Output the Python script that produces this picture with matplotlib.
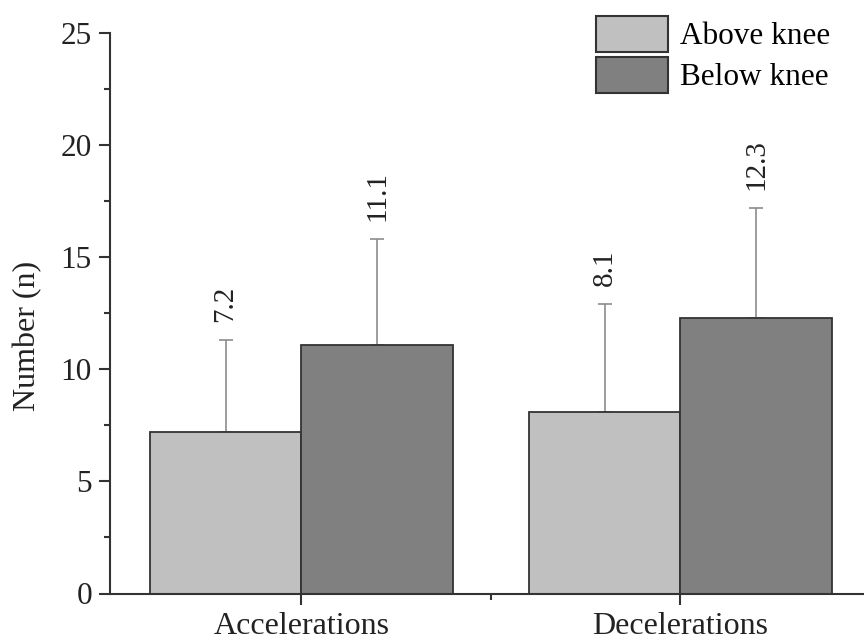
import matplotlib
matplotlib.use("Agg")
import matplotlib.pyplot as plt
from matplotlib.ticker import MultipleLocator, FixedLocator
import numpy as np

categories = ["Accelerations", "Decelerations"]
series_names = ["Above knee", "Below knee"]
above_mean = [7.2, 8.1]
above_sd = [4.1, 4.8]
below_mean = [11.1, 12.3]
below_sd = [4.7, 4.9]
yticks = [0, 5, 10, 15, 20, 25]

plt.rcParams['font.family'] = ['Liberation Serif', 'DejaVu Serif']

fig = plt.figure(figsize=(8.64, 6.42), dpi=100)
ax_left, ax_right = 110, 870
ax_bottom, ax_top = 593.5, 32.7
ax = fig.add_axes([ax_left/864, 1-ax_bottom/642, (ax_right-ax_left)/864, (ax_bottom-ax_top)/642])

x = np.arange(len(categories))
w = 0.4
edge = '#333333'
err_kw = dict(ecolor='#8c8c8c', elinewidth=1.2, capsize=5, capthick=1.2)

ax.bar(x - w/2, above_mean, w, color='#c0c0c0', edgecolor=edge, linewidth=1.3,
       label=series_names[0], zorder=2)
ax.bar(x + w/2, below_mean, w, color='#808080', edgecolor=edge, linewidth=1.3,
       label=series_names[1], zorder=2)
ax.errorbar(x - w/2, above_mean, yerr=[np.zeros(len(x)), above_sd], fmt='none', zorder=1, **err_kw)
ax.errorbar(x + w/2, below_mean, yerr=[np.zeros(len(x)), below_sd], fmt='none', zorder=1, **err_kw)

for xs, m, s in [(x - w/2, above_mean, above_sd), (x + w/2, below_mean, below_sd)]:
    for xi, mi, si in zip(xs, m, s):
        ax.text(xi, mi + si + 0.8, f"{mi:.1f}", rotation=90, ha='center', va='bottom',
                fontsize=21, color='#222222')

ax.set_xlim(-0.505, 1.50)
ax.set_ylim(0, 25)
ax.set_yticks(yticks)
ax.yaxis.set_minor_locator(MultipleLocator(2.5))
ax.set_xticks(x)
ax.set_xticklabels(categories)
ax.xaxis.set_minor_locator(FixedLocator([0.5]))

for side in ['top', 'right']:
    ax.spines[side].set_visible(False)
for side in ['left', 'bottom']:
    ax.spines[side].set_linewidth(1.5)
    ax.spines[side].set_color('#333333')

ax.tick_params(axis='both', which='major', direction='out', length=8, width=1.5,
               color='#333333', labelcolor='#222222')
ax.tick_params(axis='y', which='major', labelsize=22.5, pad=5)
ax.tick_params(axis='x', which='major', labelsize=23, pad=5)
ax.tick_params(axis='both', which='minor', direction='out', length=4, width=1.5, color='#333333')

ax.set_ylabel("Number (n)", fontsize=23, color='#222222')
ax.yaxis.set_label_coords(-0.089, 0.459)

leg = ax.legend(loc='upper left', bbox_to_anchor=((596-ax_left)/(ax_right-ax_left), 1.03),
                frameon=False, fontsize=22.5, handlelength=2.3, handleheight=1.4,
                labelspacing=0.16, handletextpad=0.38, borderaxespad=0, borderpad=0)
for p in leg.get_patches():
    p.set_edgecolor('#333333')
    p.set_linewidth(1.5)

fig.savefig("out.png", dpi=100)
